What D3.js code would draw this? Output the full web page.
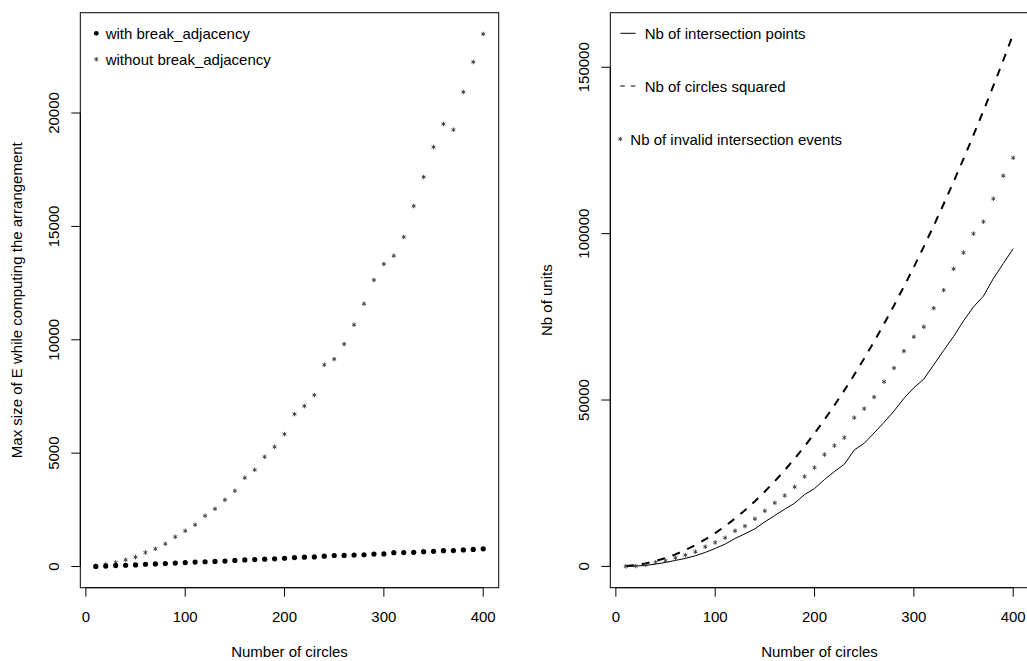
<!DOCTYPE html>
<html>
<head>
<meta charset="utf-8">
<script src="https://cdn.jsdelivr.net/npm/d3@7"></script>
<style>
  body { margin: 0; background: #fff; }
  svg { display: block; font-family: "Liberation Sans", Arial, Helvetica, sans-serif; }
</style>
</head>
<body>
<div id="chart"></div>
<script>
// number of circles (x values, both panels)
var circles = [10,20,30,40,50,60,70,80,90,100,110,120,130,140,150,160,170,180,190,200,
               210,220,230,240,250,260,270,280,290,300,310,320,330,340,350,360,370,380,390,400];

// left panel: max size of E
var withBreak = [5,20,40,55,72,100,115,130,150,175,195,210,225,240,270,290,305,322,340,365,
                 395,410,425,455,485,490,505,520,550,555,610,615,625,655,670,700,705,730,755,780];
var withoutBreak = [15,90,180,295,414,618,780,1000,1310,1575,1840,2236,2545,2942,3339,3912,4265,4838,5280,5839,
                    6722,7075,7560,8897,9147,9809,10662,11588,12633,13339,13705,14530,15897,17177,18500,19515,19263,20926,22249,23485];

// right panel
var intersectionPts = [0,100,300,700,1200,1800,2400,3200,4200,5400,6700,8400,9800,11300,13400,15300,17200,19000,21600,23400,
                       26100,28500,30700,35000,37000,40100,43300,46700,50500,53700,56300,60600,64900,69100,73800,78000,81200,86500,91000,95500];
var circlesSquared = [100,400,900,1600,2500,3600,4900,6400,8100,10000,12100,14400,16900,19600,22500,25600,28900,32400,36100,40000,
                      44100,48400,52900,57600,62500,67600,72900,78400,84100,90000,96100,102400,108900,115600,122500,129600,136900,144400,152100,160000];
var invalidEvents = [0,100,500,1200,1700,2600,3400,4400,5900,7200,8600,10700,12100,14300,16700,19100,21300,23900,27000,29700,
                     33600,36300,38700,44700,47400,50900,55500,59600,64700,69000,72000,77600,83000,89400,94300,100000,103600,110500,117400,122800];

var xTicks = [0,100,200,300,400];
var leftYTicks = [0,5000,10000,15000,20000];
var rightYTicks = [0,50000,100000,150000];

var W = 1027, H = 661, fs = 15, tickLen = 9;

var svg = d3.select("#chart").append("svg")
  .attr("width", W).attr("height", H);

var star = d3.symbol().type(d3.symbolAsterisk).size(14);

function drawPanel(opt) {
  var x = d3.scaleLinear().domain([-5.6, 415.6]).range([opt.left, opt.left + 418.4]);
  var y = d3.scaleLinear().domain(opt.ydom).range([587.7, 12.7]);
  var g = svg.append("g");

  // box
  g.append("rect")
    .attr("x", x.range()[0]).attr("y", 12.7)
    .attr("width", x.range()[1] - x.range()[0]).attr("height", 575)
    .attr("fill", "none").attr("stroke", "#000").attr("stroke-width", 1);

  // x axis
  var xa = g.append("g").attr("transform", "translate(0,587.7)");
  xa.append("line")
    .attr("x1", x(xTicks[0])).attr("x2", x(xTicks[xTicks.length - 1]))
    .attr("stroke", "#000");
  xa.selectAll(".t").data(xTicks).enter().append("line")
    .attr("x1", function(d) { return x(d); }).attr("x2", function(d) { return x(d); })
    .attr("y1", 0).attr("y2", tickLen).attr("stroke", "#000");
  xa.selectAll("text").data(xTicks).enter().append("text")
    .attr("x", function(d) { return x(d); })
    .attr("y", 34)
    .attr("text-anchor", "middle")
    .attr("font-size", fs)
    .text(function(d) { return d; });

  // y axis
  var left = x.range()[0];
  var ya = g.append("g").attr("transform", "translate(" + left + ",0)");
  ya.append("line")
    .attr("y1", y(opt.yticks[0])).attr("y2", y(opt.yticks[opt.yticks.length - 1]))
    .attr("stroke", "#000");
  ya.selectAll(".t").data(opt.yticks).enter().append("line")
    .attr("y1", function(d) { return y(d); }).attr("y2", function(d) { return y(d); })
    .attr("x1", 0).attr("x2", -tickLen).attr("stroke", "#000");
  ya.selectAll("text").data(opt.yticks).enter().append("text")
    .attr("transform", function(d) { return "translate(" + (opt.ytickX - left) + "," + y(d) + ") rotate(-90)"; })
    .attr("text-anchor", "middle")
    .attr("font-size", fs)
    .text(function(d) { return d; });

  // axis titles
  g.append("text")
    .attr("x", (x.range()[0] + x.range()[1]) / 2).attr("y", 657)
    .attr("text-anchor", "middle").attr("font-size", fs)
    .text("Number of circles");
  g.append("text")
    .attr("transform", "translate(" + opt.ytitleX + ",300.2) rotate(-90)")
    .attr("text-anchor", "middle").attr("font-size", fs)
    .text(opt.ytitle);

  return {g: g, x: x, y: y};
}

//*****LEFT PANEL*****//
var p1 = drawPanel({left: 80.3, ydom: [-934, 24424], yticks: leftYTicks,
  ytickX: 58.5, ytitleX: 22, ytitle: "Max size of E while computing the arrangement"});

p1.g.selectAll(".star").data(circles).enter().append("path")
  .attr("d", star)
  .attr("transform", function(d, i) { return "translate(" + p1.x(d) + "," + p1.y(withoutBreak[i]) + ")"; })
  .attr("fill", "none").attr("stroke", "#444").attr("stroke-width", 1);

p1.g.selectAll(".dot").data(circles).enter().append("circle")
  .attr("cx", function(d) { return p1.x(d); })
  .attr("cy", function(d, i) { return p1.y(withBreak[i]); })
  .attr("r", 2.6)
  .attr("fill", "#000");

// legend
p1.g.append("circle").attr("cx", 96.3).attr("cy", 33.3).attr("r", 2.4).attr("fill", "#000");
p1.g.append("text").attr("x", 105.7).attr("y", 38.8).attr("font-size", fs).text("with break_adjacency");
p1.g.append("path").attr("d", star).attr("transform", "translate(96.3,59.3)")
  .attr("fill", "none").attr("stroke", "#444");
p1.g.append("text").attr("x", 105.7).attr("y", 64.8).attr("font-size", fs).text("without break_adjacency");

//*****RIGHT PANEL*****//
var p2 = drawPanel({left: 610.3, ydom: [-6400, 166400], yticks: rightYTicks,
  ytickX: 588.5, ytitleX: 552, ytitle: "Nb of units"});

var line = d3.line()
  .x(function(d) { return p2.x(d[0]); })
  .y(function(d) { return p2.y(d[1]); });

p2.g.append("path")
  .datum(circles.map(function(c, i) { return [c, intersectionPts[i]]; }))
  .attr("d", line)
  .attr("fill", "none").attr("stroke", "#000").attr("stroke-width", 1);

p2.g.append("path")
  .datum(circles.map(function(c, i) { return [c, circlesSquared[i]]; }))
  .attr("d", line)
  .attr("fill", "none").attr("stroke", "#000").attr("stroke-width", 2)
  .style("stroke-dasharray", "8,8");

p2.g.selectAll(".star").data(circles).enter().append("path")
  .attr("d", star)
  .attr("transform", function(d, i) { return "translate(" + p2.x(d) + "," + p2.y(invalidEvents[i]) + ")"; })
  .attr("fill", "none").attr("stroke", "#444").attr("stroke-width", 1);

// legend
p2.g.append("line").attr("x1", 620.3).attr("x2", 635.7).attr("y1", 33.3).attr("y2", 33.3).attr("stroke", "#000");
p2.g.append("text").attr("x", 644.7).attr("y", 38.8).attr("font-size", fs).text("Nb of intersection points");
p2.g.append("line").attr("x1", 620.3).attr("x2", 635.7).attr("y1", 86).attr("y2", 86)
  .attr("stroke", "#000").style("stroke-dasharray", "4.5,6");
p2.g.append("text").attr("x", 644.7).attr("y", 91.5).attr("font-size", fs).text("Nb of circles squared");
p2.g.append("path").attr("d", star).attr("transform", "translate(620.3,139)")
  .attr("fill", "none").attr("stroke", "#444");
p2.g.append("text").attr("x", 630.3).attr("y", 144.5).attr("font-size", fs).text("Nb of invalid intersection events");
</script>
</body>
</html>
